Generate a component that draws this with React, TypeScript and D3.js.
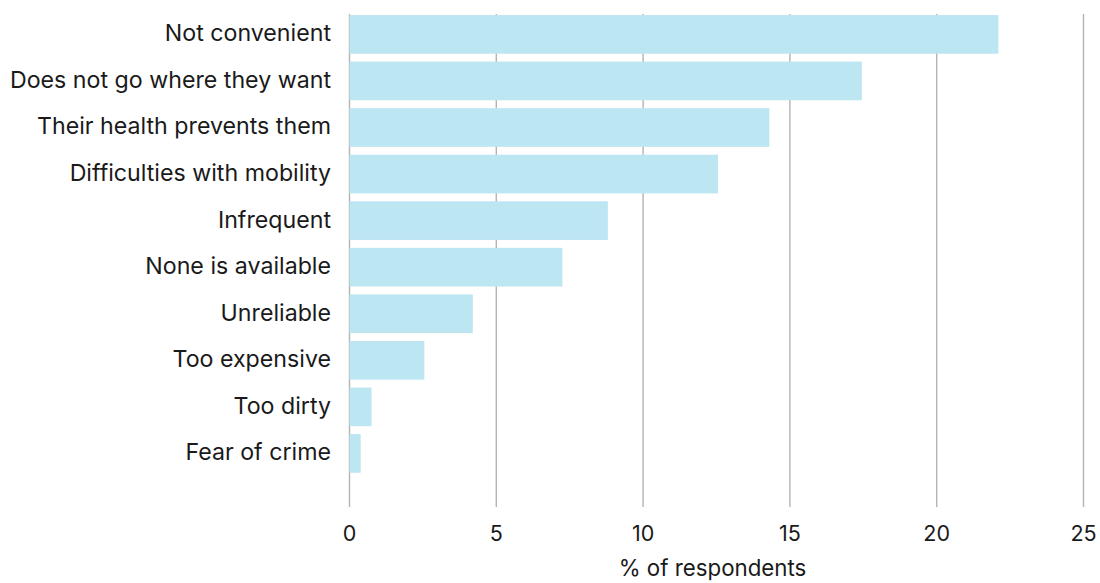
import React from "react";
import * as d3 from "d3";

const categories = [
  "Not convenient",
  "Does not go where they want",
  "Their health prevents them",
  "Difficulties with mobility",
  "Infrequent",
  "None is available",
  "Unreliable",
  "Too expensive",
  "Too dirty",
  "Fear of crime",
];
const values = [22.1, 17.45, 14.3, 12.55, 8.8, 7.25, 4.2, 2.55, 0.75, 0.38];
const xTicks = [0, 5, 10, 15, 20, 25];
const xTitle = "% of respondents";

const W = 1100;
const H = 583;

export default function App() {
  const x = d3.scaleLinear().domain([0, 25]).range([349.5, 1083.5]);
  const y = d3
    .scaleBand<string>()
    .domain(categories)
    .range([11.1, 476.7])
    .paddingInner(0.169)
    .paddingOuter(0.0845);
  const font = "Inter, 'Noto Sans', sans-serif";
  return (
    <svg
      width={W}
      height={H}
      style={{ position: "absolute", left: 0, top: 0, background: "#fff" }}
      fontFamily={font}
    >
      {xTicks.map((t) => (
        <line
          key={"g" + t}
          x1={x(t)}
          x2={x(t)}
          y1={14}
          y2={507}
          stroke="#b3b3b3"
          strokeWidth={1.4}
        />
      ))}
      {categories.map((c, i) => (
        <rect
          key={c}
          x={x(0)}
          y={y(c)}
          width={x(values[i]) - x(0)}
          height={y.bandwidth()}
          fill="#bde6f3"
        />
      ))}
      {categories.map((c) => (
        <text
          key={"l" + c}
          x={331}
          y={(y(c) as number) + y.bandwidth() / 2}
          dy="0.3em"
          textAnchor="end"
          fontSize={23.2}
          fill="#1a1a1a"
        >
          {c}
        </text>
      ))}
      {xTicks.map((t) => (
        <text
          key={"t" + t}
          x={x(t)}
          y={541}
          textAnchor="middle"
          fontSize={21.5}
          fill="#1a1a1a"
        >
          {t}
        </text>
      ))}
      <text
        x={(x(0) + x(25)) / 2 - 4}
        y={576}
        textAnchor="middle"
        fontSize={22.3}
        fill="#1a1a1a"
      >
        {xTitle}
      </text>
    </svg>
  );
}
